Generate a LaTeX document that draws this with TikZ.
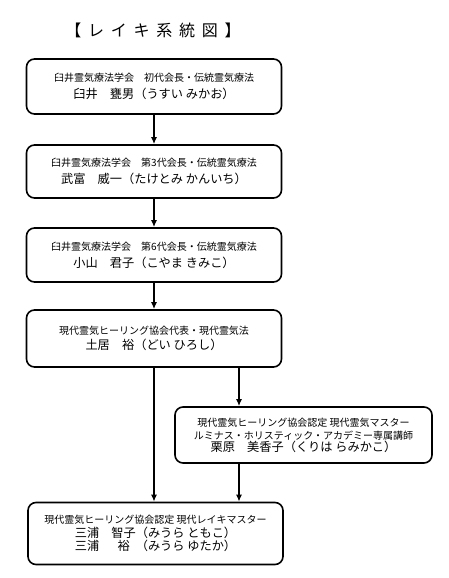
\documentclass[tikz,border=0pt]{standalone}
\usepackage{fontspec}
\setmainfont{Noto Sans CJK JP}
\newfontfamily\titlefont[LetterSpace=42]{Noto Sans CJK JP}
\usetikzlibrary{arrows.meta}
\newcommand{\sml}{\fontsize{10}{12}\selectfont}
\newcommand{\nm}{\fontsize{12.2}{14}\selectfont}

\begin{document}
\begin{tikzpicture}[
		x=1pt, y=-1pt,
		box/.style = {rectangle, draw, line width=1.6pt, rounded corners=8pt, minimum width=255pt, inner sep=0pt, align=center},
		arr/.style = {-{Latex[length=7pt, width=6pt]}, line width=1.4pt}
		]
		\useasboundingbox (0,0) rectangle (448,578);
		
		%Title
		\node (title) at (153, 30) {\titlefont\fontsize{16}{18}\selectfont 【レイキ系統図】};
		
		%Nodes
		\node[box, minimum height=55pt]	(b1)	at	(154, 86.5)	{\sml 臼井霊気療法学会　初代会長・伝統霊気療法\\[5pt] \nm 臼井　甕男（うすい みかお）};
		\node[box, minimum height=53pt]	(b2)	at	(154, 171.5)	{\sml 臼井霊気療法学会　第3代会長・伝統霊気療法\\[5pt] \nm 武富　威一（たけとみ かんいち）};
		\node[box, minimum height=54pt]	(b3)	at	(154, 255)	{\sml 臼井霊気療法学会　第6代会長・伝統霊気療法\\[5pt] \nm 小山　君子（こやま きみこ）};
		\node[box, minimum height=57pt]	(b4)	at	(154, 338.5)	{\sml 現代霊気ヒーリング協会代表・現代霊気法\\[3pt] \nm 土居　裕（どい ひろし）};
		\node[box, minimum height=56pt, minimum width=257pt]	(b5)	at	(303.5, 435)	{\sml 現代霊気ヒーリング協会認定 現代霊気マスター\\[1pt] \sml ルミナス・ホリスティック・アカデミー専属講師\\[0pt] \nm 栗原　美香子（くりは らみかこ）};
		\node[box, minimum height=62pt]	(b6)	at	(155.5, 533.5)	{\sml 現代霊気ヒーリング協会認定 現代レイキマスター\\[2pt] \nm 三浦　智子（みうら ともこ）\\[1pt] \nm 三浦\hspace{1.5em}裕\hspace{0.5em}（みうら ゆたか）};
		\coordinate	(j)	at	(239, 400);
		
		%Lines
		\draw[arr]	(b1)	--	(b2);
		\draw[arr]	(b2)	--	(b3);
		\draw[arr]	(b3)	--	(b4);
		\draw[arr]	(b4.south)	--	(b4.south |- b6.north);
		\draw[arr]	(b4.south -| j)	--	(b5.north -| j);
		\draw[arr]	(b5.south -| j)	--	(b6.north -| j);
	\end{tikzpicture}
\end{document}
